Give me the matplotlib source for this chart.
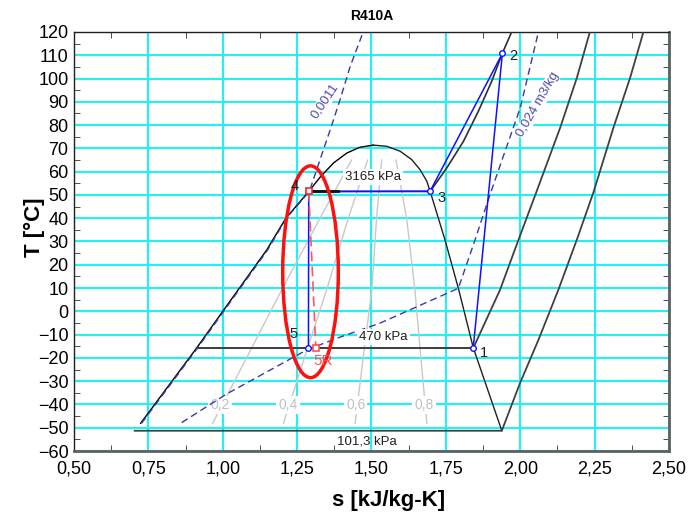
import matplotlib
matplotlib.use("Agg")
import matplotlib.pyplot as plt
from matplotlib.patches import Ellipse
from matplotlib.ticker import MultipleLocator, FuncFormatter

plt.rcParams['font.family'] = ['Liberation Sans', 'DejaVu Sans']

# --- dane odczytane z wykresu T-s dla R410A ---
# linia cieczy nasyconej (s, T)
liq_s = [0.724, 0.912, 1.000, 1.148, 1.212, 1.289, 1.327, 1.372, 1.417, 1.461, 1.506]
liq_T = [-48.1, -15.8, 0.0, 26.4, 40.0, 51.5, 57.6, 63.7, 68.0, 70.5, 71.4]
# linia pary nasyconej
vap_s = [1.506, 1.551, 1.596, 1.635, 1.663, 1.686, 1.697, 1.747, 1.792, 1.842, 1.938]
vap_T = [71.4, 70.9, 68.8, 65.2, 60.9, 55.9, 51.6, 30.7, 9.9, -15.6, -51.3]

# linie stalego stopnia suchosci (0,2 0,4 0,6 0,8)
q_T = [-48.1, -15.8, 9.2, 40.0, 65.0]
q02_s = [0.966, 1.097, 1.198, 1.327, 1.433]
q04_s = [1.204, 1.285, 1.349, 1.422, 1.487]
q06_s = [1.445, 1.476, 1.501, 1.517, 1.534]
q08_s = [1.686, 1.663, 1.646, 1.618, 1.582]
q_labels = ['0,2', '0,4', '0,6', '0,8']
q_label_s = [0.991, 1.220, 1.447, 1.676]
q_label_T = -40.2

# izobary
p3165_s = [1.289, 1.697, 1.753, 1.809, 1.859, 1.904, 1.938, 1.971]
p3165_T = [51.5, 51.5, 61.6, 73.0, 85.9, 98.8, 110.3, 120.0]
p470_s = [0.912, 1.842, 1.932, 1.994, 2.052, 2.134, 2.190, 2.234]
p470_T = [-15.8, -15.8, 9.2, 30.7, 50.5, 78.8, 100.2, 120.0]
p101_s = [0.704, 1.938, 1.999, 2.061, 2.128, 2.190, 2.246, 2.313, 2.369, 2.414]
p101_T = [-51.3, -51.3, -30.9, -12.3, 9.2, 30.7, 51.1, 78.8, 100.2, 120.0]
p3165_short_s = [1.289, 1.387]

# izochory
v0011_s = [0.727, 0.915, 1.003, 1.151, 1.214, 1.291, 1.338, 1.361, 1.394, 1.428, 1.472]
v0011_T = [-48.1, -15.8, 0.0, 26.4, 40.0, 51.5, 69.3, 77.9, 90.8, 105.1, 120.0]
v024_s = [0.862, 1.013, 1.285, 1.394, 1.528, 1.792, 1.848, 1.898, 1.949, 2.000, 2.061]
v024_T = [-47.8, -35.5, -16.4, -11.1, -5.1, 9.9, 30.7, 50.0, 68.8, 87.4, 120.0]

# obieg: punkty 1..5 i 5R
cyc_s = [1.842, 1.940, 1.697, 1.289, 1.288]
cyc_T = [-15.6, 110.8, 51.6, 51.5, -15.8]
cyc_names = ['1', '2', '3', '4', '5']
p5r_s, p5r_T = 1.313, -15.8

# elipsa (srodek, szerokosc, wysokosc)
ell_center = (1.295, 17.0)
ell_w, ell_h = 0.187, 91.0

fig = plt.figure(figsize=(6.91, 5.15), dpi=100)
ax = fig.add_axes([74/691, 64/515, 595/691, 419/515])

ax.set_xlim(0.5, 2.5)
ax.set_ylim(-60, 120)
ax.xaxis.set_major_locator(MultipleLocator(0.25))
ax.xaxis.set_minor_locator(MultipleLocator(0.125))
ax.yaxis.set_major_locator(MultipleLocator(10))
ax.yaxis.set_minor_locator(MultipleLocator(5))
ax.xaxis.set_major_formatter(FuncFormatter(lambda v, p: f"{v:.2f}".replace('.', ',')))
ax.grid(True, which='major', color='#1ff2f2', lw=1.5, zorder=0)
ax.tick_params(which='both', direction='in', top=True, right=True, labelsize=13, color='#303030')
ax.tick_params(which='major', length=0, pad=7)
ax.tick_params(axis='y', which='major', pad=4)
ax.tick_params(which='minor', length=4)
for side in ['left', 'top']:
    ax.spines[side].set_color('#202020')
    ax.spines[side].set_linewidth(1.0)
for side in ['right', 'bottom']:
    ax.spines[side].set_color('#606060')
    ax.spines[side].set_linewidth(2.0)

# linie stopnia suchosci
for qs in [q02_s, q04_s, q06_s, q08_s]:
    ax.plot(qs, q_T, color='#c8c8c8', lw=1, zorder=2)
for lab, s in zip(q_labels, q_label_s):
    ax.text(s, q_label_T, lab, color='#c0c0c0', fontsize=10, ha='center', va='center',
            bbox=dict(facecolor='white', edgecolor='none', pad=1.5), zorder=3)

# kopula nasycenia
ax.plot(liq_s, liq_T, color='black', lw=1, zorder=4)
ax.plot(vap_s, vap_T, color='#202020', lw=1, zorder=4)

# izobary
ax.plot(p3165_s, p3165_T, color='#303030', lw=1.2, zorder=4)
ax.plot(p470_s, p470_T, color='#404040', lw=1.3, zorder=4)
ax.plot(p101_s, p101_T, color='#404040', lw=1.3, zorder=4)
ax.text(1.506, 57.8, '3165 kPa', fontsize=9.5, color='#202020', ha='center', va='center',
        bbox=dict(facecolor='white', edgecolor='none', pad=1.5), zorder=5)
ax.text(1.540, -10.9, '470 kPa', fontsize=9.5, color='#202020', ha='center', va='center',
        bbox=dict(facecolor='white', edgecolor='none', pad=1.5), zorder=5)
ax.text(1.485, -55.8, '101,3 kPa', fontsize=9.5, color='#202020', ha='center', va='center', zorder=5)

# izochory
ax.plot(v0011_s, v0011_T, color='#3838a8', lw=1, ls=(0, (5, 3)), zorder=4)
ax.plot(v024_s, v024_T, color='#3838a8', lw=1, ls=(0, (5, 3)), zorder=4)
ax.text(1.344, 90.5, '0,0011', fontsize=9.5, color='#4a4ab0', rotation=56,
        ha='center', va='center', bbox=dict(facecolor='white', edgecolor='none', pad=0.5), zorder=5)
ax.text(2.058, 88.8, '0,024 m3/kg', fontsize=9.5, color='#4a4ab0', rotation=60,
        ha='center', va='center', bbox=dict(facecolor='white', edgecolor='none', pad=0.5), zorder=5)

# obieg chlodniczy
ax.plot(cyc_s, cyc_T, color='#1010ff', lw=1.1, zorder=6)
ax.plot(p3165_short_s, [cyc_T[3], cyc_T[3]], color='#101010', lw=2, zorder=6)
ax.plot(p470_s[:2], p470_T[:2], color='#404040', lw=1.3, zorder=6)
ax.plot([cyc_s[3], p5r_s], [cyc_T[3], p5r_T], color='#ff5a5a', lw=1.2, ls=(0, (6, 3)), zorder=6)

for i in [0, 1, 2, 4]:
    ax.plot(cyc_s[i], cyc_T[i], 'o', ms=4, mfc='white', mec='#1010ff', mew=1, zorder=8)
ax.plot(cyc_s[3], cyc_T[3], 's', ms=4.5, mfc='white', mec='#ff2020', mew=1.2, zorder=8)
ax.plot(p5r_s, p5r_T, 's', ms=4.5, mfc='white', mec='#ff5050', mew=1.2, zorder=8)

offsets = {'1': (5, -4), '2': (5, -2), '3': (5, -5), '4': (-13, 4), '5': (-14, 10)}
for name, s, T in zip(cyc_names, cyc_s, cyc_T):
    dx, dy = offsets[name]
    ax.annotate(name, (s, T), xytext=(dx, dy), textcoords='offset points',
                fontsize=10.5, color='#202020', va='center', zorder=9)
ax.annotate('5R', (p5r_s, p5r_T), xytext=(-2, -9), textcoords='offset points',
            fontsize=11, color='#ff5050', va='center', zorder=9)

ax.add_patch(Ellipse(ell_center, ell_w, ell_h, fill=False, edgecolor='#ff1010', lw=2.5, zorder=7))

ax.set_title('R410A', fontsize=10, fontweight='bold', pad=9)
ax.set_xlabel('s [kJ/kg-K]', fontsize=16, fontweight='bold')
ax.set_ylabel('T [°C]', fontsize=16, fontweight='bold')
ax.xaxis.set_label_coords(0.529, -0.092)
ax.yaxis.set_label_coords(-0.048, 0.535)

fig.savefig('out.png', dpi=100)
